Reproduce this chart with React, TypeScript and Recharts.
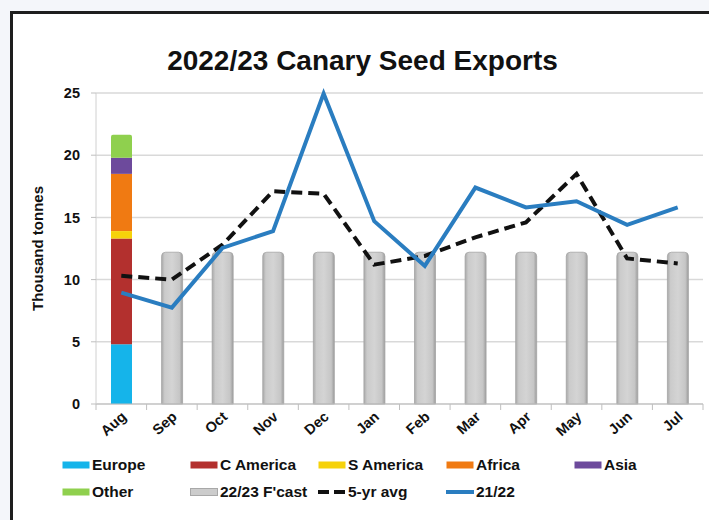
import React from "react";
import {
  ComposedChart,
  Bar,
  Line,
  XAxis,
  YAxis,
  CartesianGrid,
  Legend,
} from "recharts";

const months = ["Aug", "Sep", "Oct", "Nov", "Dec", "Jan", "Feb", "Mar", "Apr", "May", "Jun", "Jul"];
const europe = [4.8, null, null, null, null, null, null, null, null, null, null, null];
const cAmerica = [8.5, null, null, null, null, null, null, null, null, null, null, null];
const sAmerica = [0.6, null, null, null, null, null, null, null, null, null, null, null];
const africa = [4.6, null, null, null, null, null, null, null, null, null, null, null];
const asia = [1.3, null, null, null, null, null, null, null, null, null, null, null];
const other = [1.85, null, null, null, null, null, null, null, null, null, null, null];
const forecast = [null, 12.2, 12.2, 12.2, 12.2, 12.2, 12.2, 12.2, 12.2, 12.2, 12.2, 12.2];
const fiveYrAvg = [10.3, 10.0, 12.8, 17.1, 16.9, 11.2, 11.9, 13.4, 14.6, 18.5, 11.7, 11.3];
const prevYear = [8.95, 7.75, 12.55, 13.9, 24.95, 14.7, 11.1, 17.4, 15.8, 16.3, 14.4, 15.8];
const yTicks = [0, 5, 10, 15, 20, 25];

const data = months.map((m, i) => ({
  month: m,
  europe: europe[i],
  cAmerica: cAmerica[i],
  sAmerica: sAmerica[i],
  africa: africa[i],
  asia: asia[i],
  other: other[i],
  forecast: forecast[i],
  avg: fiveYrAvg[i],
  prev: prevYear[i],
}));

const FONT = "'Liberation Sans', Arial, sans-serif";
const CHART_W = 709;
const CHART_H = 520;
const Y_AXIS_W = 96;
const MARGIN_R = 6;
const BAND = (CHART_W - Y_AXIS_W - MARGIN_R) / months.length;

const COLORS = {
  europe: "#15b4ea",
  cAmerica: "#b3302e",
  sAmerica: "#f6d20a",
  africa: "#f07a12",
  asia: "#6d4a9c",
  other: "#8fd04e",
  avg: "#111111",
  prev: "#2a7dc0",
};

const XTick = (props: any) => {
  const { x, y, payload, index } = props;
  const last = index === months.length - 1;
  return (
    <g>
      <line x1={x - BAND / 2} x2={x - BAND / 2} y1={y} y2={y + 6} stroke="#bfbfbf" strokeWidth={1} />
      {last && (
        <line x1={x + BAND / 2} x2={x + BAND / 2} y1={y} y2={y + 6} stroke="#bfbfbf" strokeWidth={1} />
      )}
      <text
        x={x + 6}
        y={y + 14}
        textAnchor="end"
        transform={`rotate(-42, ${x + 6}, ${y + 14})`}
        fontFamily={FONT}
        fontWeight="bold"
        fontSize={14.5}
        fill="#111"
      >
        {payload.value}
      </text>
    </g>
  );
};

const legendItems = [
  { label: "Europe", kind: "rect", color: COLORS.europe },
  { label: "C America", kind: "rect", color: COLORS.cAmerica },
  { label: "S America", kind: "rect", color: COLORS.sAmerica },
  { label: "Africa", kind: "rect", color: COLORS.africa },
  { label: "Asia", kind: "rect", color: COLORS.asia },
  { label: "Other", kind: "rect", color: COLORS.other },
  { label: "22/23 F'cast", kind: "rect", color: "#cccccc" },
  { label: "5-yr avg", kind: "dash", color: COLORS.avg },
  { label: "21/22", kind: "line", color: COLORS.prev },
];

const LegendContent = () => (
  <div style={{ position: "relative", width: CHART_W, height: 50, fontFamily: FONT }}>
    {legendItems.map((it, i) => {
      const col = i % 5;
      const row = Math.floor(i / 5);
      return (
        <div
          key={it.label}
          style={{
            position: "absolute",
            left: 62 + col * 128,
            top: row * 27,
            height: 20,
            display: "flex",
            alignItems: "center",
            whiteSpace: "nowrap",
          }}
        >
          <svg width={28} height={10} style={{ marginRight: 2 }}>
            {it.kind === "rect" && (
              <rect x={0.5} y={1.5} width={27} height={7} fill={it.color} stroke={it.label === "22/23 F'cast" ? "#a8a8a8" : "none"} />
            )}
            {it.kind === "dash" && (
              <line x1={0} x2={28} y1={5} y2={5} stroke={it.color} strokeWidth={4} strokeDasharray="11 5" />
            )}
            {it.kind === "line" && (
              <line x1={0} x2={28} y1={5} y2={5} stroke={it.color} strokeWidth={4} />
            )}
          </svg>
          <span style={{ fontWeight: "bold", fontSize: 15.5, color: "#111" }}>{it.label}</span>
        </div>
      );
    })}
  </div>
);

export default function App() {
  return (
    <div style={{ position: "fixed", left: 0, top: 0, width: CHART_W, height: CHART_H, background: "#f4f6fa", overflow: "hidden" }}>
      <div
        style={{
          position: "absolute",
          left: 10,
          top: 11,
          width: 740,
          height: 560,
          background: "#ffffff",
          borderLeft: "3px solid #1e1e1e",
          borderTop: "3px solid #1e1e1e",
        }}
      />
      <div
        style={{
          position: "absolute",
          left: 0,
          top: 45,
          width: CHART_W,
          textAlign: "center",
          fontFamily: FONT,
          fontWeight: "bold",
          fontSize: 28,
          color: "#111",
          paddingLeft: 16,
          boxSizing: "border-box",
        }}
      >
        2022/23 Canary Seed Exports
      </div>
      <div style={{ position: "absolute", left: 0, top: 0 }}>
        <ComposedChart
          width={CHART_W}
          height={CHART_H}
          data={data}
          margin={{ top: 93, right: MARGIN_R, bottom: 66, left: 0 }}
          barGap={0}
        >
          <defs>
            <linearGradient id="gray" x1="0" y1="0" x2="1" y2="0">
              <stop offset="0%" stopColor="#a9a9a9" />
              <stop offset="15%" stopColor="#cbcbcb" />
              <stop offset="50%" stopColor="#d4d4d4" />
              <stop offset="85%" stopColor="#c6c6c6" />
              <stop offset="100%" stopColor="#9c9c9c" />
            </linearGradient>
          </defs>
          <CartesianGrid vertical={false} stroke="#d9d9d9" strokeWidth={1.5} />
          <XAxis
            dataKey="month"
            height={50}
            interval={0}
            tickSize={0}
            tickMargin={0}
            tick={<XTick />}
            axisLine={{ stroke: "#bfbfbf" }}
          />
          <YAxis
            width={Y_AXIS_W}
            domain={[0, 25]}
            ticks={yTicks}
            interval={0}
            tickSize={5}
            tickMargin={11}
            axisLine={{ stroke: "#d0d0d0" }}
            tickLine={{ stroke: "#bfbfbf" }}
            tick={{ fontFamily: FONT, fontWeight: "bold", fontSize: 14.5, fill: "#111" }}
            label={{
              value: "Thousand tonnes",
              angle: -90,
              position: "center",
              dx: -10,
              style: { fontFamily: FONT, fontWeight: "bold", fontSize: 15, fill: "#111" },
            }}
          />
          <Legend
            verticalAlign="middle"
            align="center"
            layout="horizontal"
            wrapperStyle={{ top: 455, left: 0, width: CHART_W, height: 50 }}
            content={<LegendContent />}
          />
          <Bar dataKey="europe" stackId="a" barSize={21} fill={COLORS.europe} isAnimationActive={false} />
          <Bar dataKey="cAmerica" stackId="a" barSize={21} fill={COLORS.cAmerica} isAnimationActive={false} />
          <Bar dataKey="sAmerica" stackId="a" barSize={21} fill={COLORS.sAmerica} isAnimationActive={false} />
          <Bar dataKey="africa" stackId="a" barSize={21} fill={COLORS.africa} isAnimationActive={false} />
          <Bar dataKey="asia" stackId="a" barSize={21} fill={COLORS.asia} isAnimationActive={false} />
          <Bar dataKey="other" stackId="a" barSize={21} fill={COLORS.other} radius={[2, 2, 0, 0]} isAnimationActive={false} />
          <Bar dataKey="forecast" stackId="a" barSize={21} fill="url(#gray)" stroke="#a5a5a5" strokeWidth={0.8} radius={[4, 4, 0, 0]} isAnimationActive={false} />
          <Line dataKey="avg" type="linear" stroke={COLORS.avg} strokeWidth={4} strokeDasharray="11 6" dot={false} activeDot={false} isAnimationActive={false} />
          <Line dataKey="prev" type="linear" stroke={COLORS.prev} strokeWidth={4} dot={false} activeDot={false} isAnimationActive={false} />
        </ComposedChart>
      </div>
    </div>
  );
}
